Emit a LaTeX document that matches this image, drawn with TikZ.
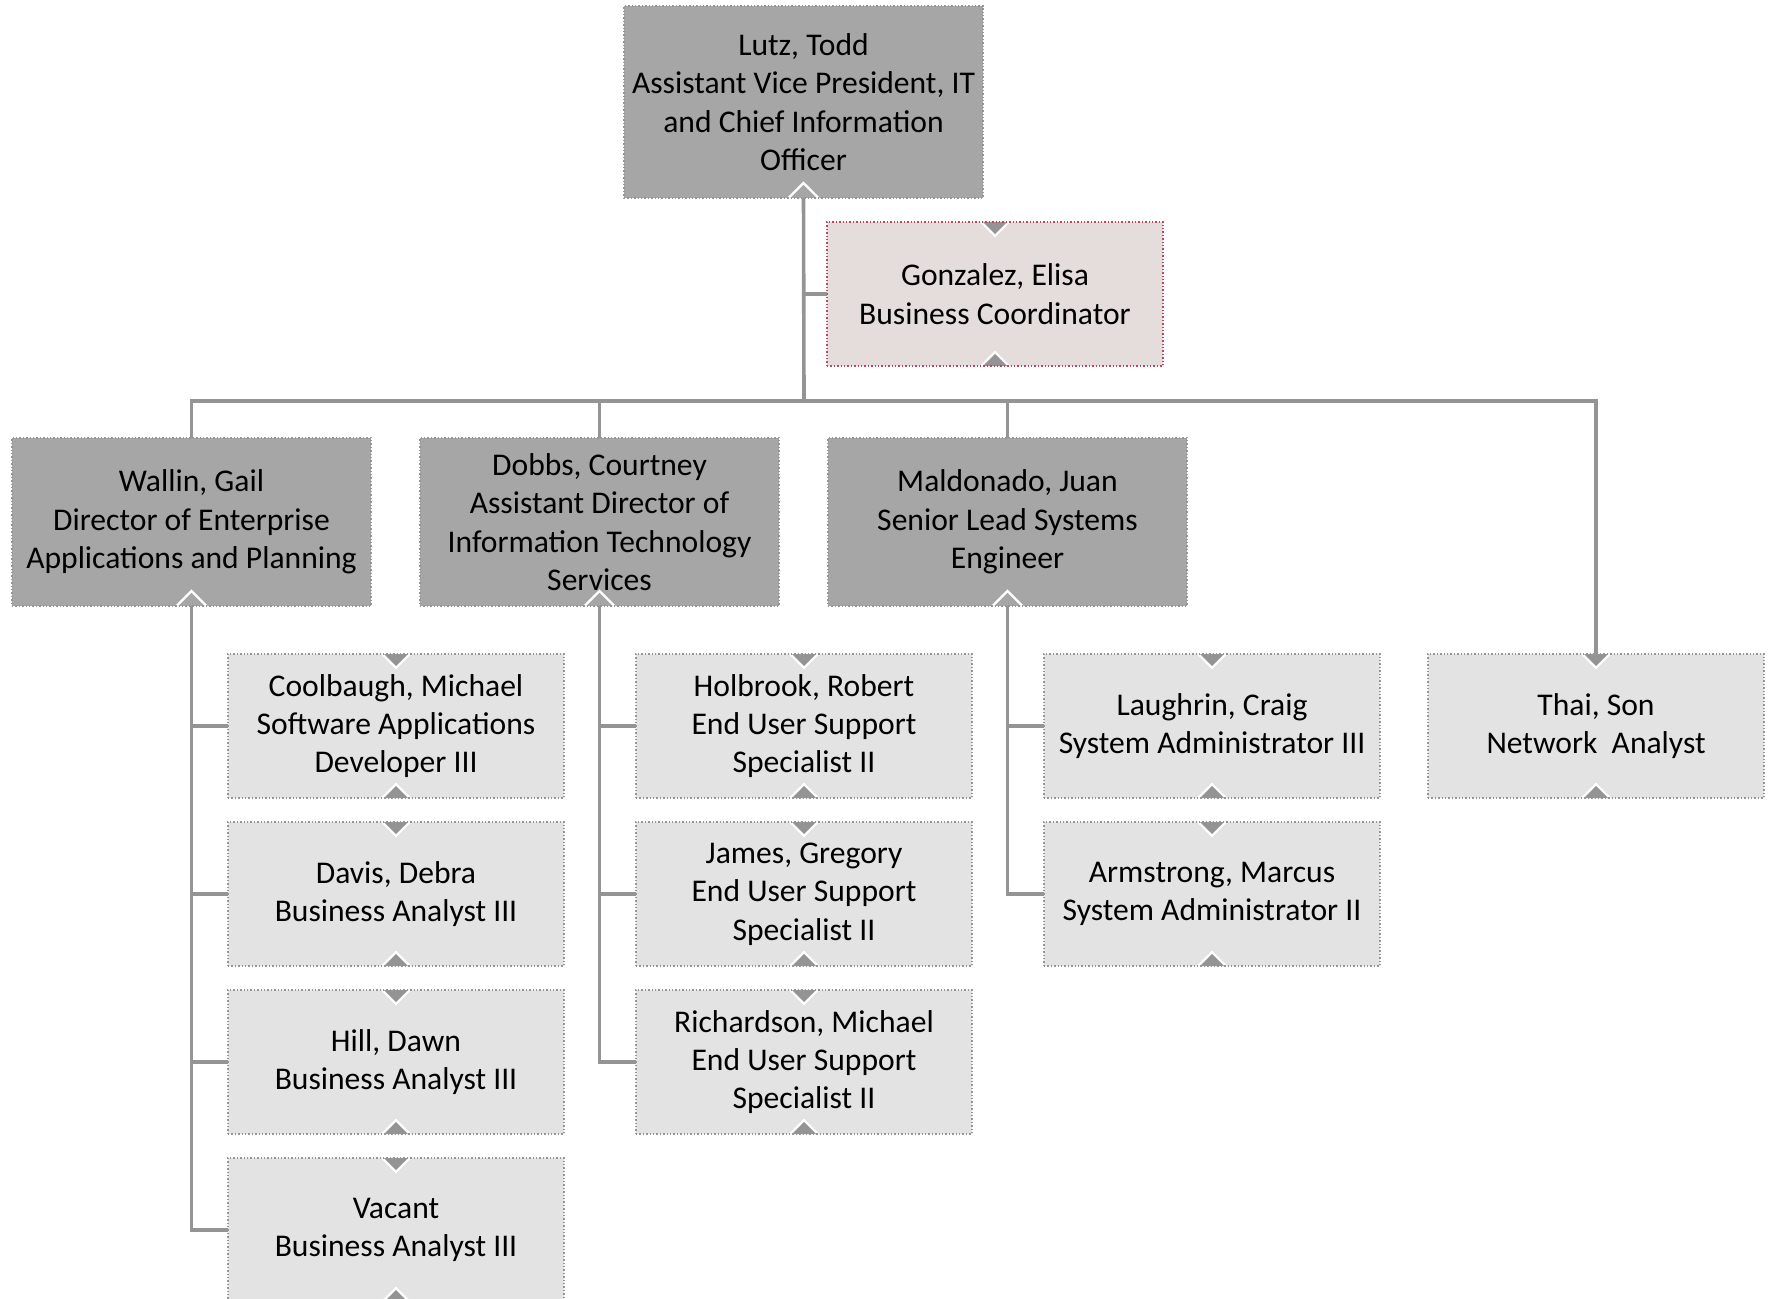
\documentclass[tikz,border=0pt]{standalone}
\usepackage{fontspec}
\setmainfont{Carlito}
\usepackage{tikz}
\usetikzlibrary{positioning}
\definecolor{headfill}{RGB}{166,166,166}
\definecolor{stafffill}{RGB}{227,227,227}
\definecolor{coordfill}{RGB}{229,220,220}
\definecolor{coordedge}{RGB}{190,70,95}
\definecolor{edgegrey}{RGB}{150,150,150}
\definecolor{linkgrey}{RGB}{148,148,148}
\tikzset{
  boxtext/.style={align=center,inner sep=0pt,outer sep=0pt,text=black,
    font={\fontsize{15.8}{19.2}\selectfont}},
  headbox/.style={boxtext,draw=edgegrey,densely dotted,line width=0.7pt,
    fill=headfill,minimum width=179.5pt,minimum height=84pt,
    path picture={
      \draw[white,solid,line width=1.2pt]
        ([xshift=-7.5pt]path picture bounding box.south)
        -- ([yshift=7.5pt]path picture bounding box.south)
        -- ([xshift=7.5pt]path picture bounding box.south);}},
  staffbox/.style={boxtext,draw=edgegrey,densely dotted,line width=0.7pt,
    fill=stafffill,minimum width=168pt,minimum height=72pt,
    path picture={
      \fill[linkgrey] ([xshift=-6pt]path picture bounding box.north)
        -- ([yshift=-6pt]path picture bounding box.north)
        -- ([xshift=6pt]path picture bounding box.north) -- cycle;
      \draw[white,solid,line width=1pt]
        ([xshift=-7pt]path picture bounding box.north)
        -- ([yshift=-7pt]path picture bounding box.north)
        -- ([xshift=7pt]path picture bounding box.north);
      \fill[linkgrey] ([xshift=-6pt]path picture bounding box.south)
        -- ([yshift=6pt]path picture bounding box.south)
        -- ([xshift=6pt]path picture bounding box.south) -- cycle;
      \draw[white,solid,line width=1pt]
        ([xshift=-7pt]path picture bounding box.south)
        -- ([yshift=7pt]path picture bounding box.south)
        -- ([xshift=7pt]path picture bounding box.south);}},
  coordbox/.style={staffbox,draw=coordedge,fill=coordfill},
  link/.style={draw=linkgrey,line width=1.8pt}
}
\begin{document}
\begin{tikzpicture}[x=0.5pt,y=-0.5pt,node distance=12pt]
  \useasboundingbox (0,0) rectangle (1770,1299);
  \node[headbox,minimum height=96pt] (lutz) at (803.5,102)
    {Lutz, Todd\\Assistant Vice President, IT\\and Chief Information\\Officer};
  \node[coordbox] (gonzalez) at (995,294) {Gonzalez, Elisa\\Business Coordinator};
  \node[headbox] (wallin) at (191.5,522)
    {Wallin, Gail\\Director of Enterprise\\Applications and Planning};
  \node[headbox] (dobbs) at (599.5,522)
    {Dobbs, Courtney\\Assistant Director of\\Information Technology\\Services};
  \node[headbox] (maldonado) at (1007.5,522)
    {Maldonado, Juan\\Senior Lead Systems\\Engineer};
  \node[staffbox] (thai) at (1596,726) {Thai, Son\\Network\ \ Analyst};
  \node[staffbox] (coolbaugh) at (396,726)
    {Coolbaugh, Michael\\Software Applications\\Developer III};
  \node[staffbox,below=of coolbaugh] (davis) {Davis, Debra\\Business Analyst III};
  \node[staffbox,below=of davis] (hill) {Hill, Dawn\\Business Analyst III};
  \node[staffbox,below=of hill] (vacant) {Vacant\\Business Analyst III};
  \node[staffbox] (holbrook) at (804,726)
    {Holbrook, Robert\\End User Support\\Specialist II};
  \node[staffbox,below=of holbrook] (james)
    {James, Gregory\\End User Support\\Specialist II};
  \node[staffbox,below=of james] (richardson)
    {Richardson, Michael\\End User Support\\Specialist II};
  \node[staffbox] (laughrin) at (1212,726)
    {Laughrin, Craig\\System Administrator III};
  \node[staffbox,below=of laughrin] (armstrong)
    {Armstrong, Marcus\\System Administrator II};
  \coordinate (hub) at (804,401);
  \draw[link] (lutz.south) -- (hub);
  \draw[link] (lutz.south |- gonzalez.west) -- (gonzalez.west);
  \draw[link] (hub) -| (wallin.north);
  \draw[link] (hub) -| (dobbs.north);
  \draw[link] (hub) -| (maldonado.north);
  \draw[link] (hub) -| (thai.north);
  \draw[link] (wallin.south) |- (coolbaugh.west);
  \draw[link] (wallin.south) |- (davis.west);
  \draw[link] (wallin.south) |- (hill.west);
  \draw[link] (wallin.south) |- (vacant.west);
  \draw[link] (dobbs.south) |- (holbrook.west);
  \draw[link] (dobbs.south) |- (james.west);
  \draw[link] (dobbs.south) |- (richardson.west);
  \draw[link] (maldonado.south) |- (laughrin.west);
  \draw[link] (maldonado.south) |- (armstrong.west);
\end{tikzpicture}
\end{document}
